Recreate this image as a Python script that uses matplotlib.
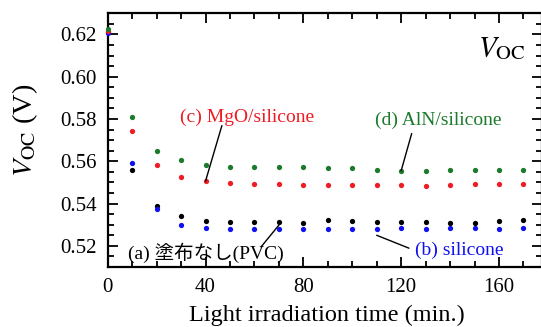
import numpy as np
import matplotlib
matplotlib.use("Agg")
import matplotlib.pyplot as plt
from matplotlib.ticker import MultipleLocator

plt.rcParams['font.family'] = ['Liberation Serif', 'Noto Sans CJK JP']
plt.rcParams['mathtext.fontset'] = 'stix'

# light irradiation time (min.)
time = [0, 10, 20, 30, 40, 50, 60, 70, 80, 90, 100, 110, 120, 130, 140, 150, 160, 170]

# Voc (V)
voc_pvc = [0.621, 0.556, 0.539, 0.5339, 0.5318, 0.5315, 0.5313, 0.5315, 0.5308, 0.5321,
           0.5318, 0.5315, 0.5315, 0.5312, 0.5307, 0.5307, 0.5318, 0.5321]
voc_sil = [0.6208, 0.5594, 0.5372, 0.5299, 0.5285, 0.5281, 0.5279, 0.5279, 0.5279, 0.528,
           0.528, 0.528, 0.5283, 0.5279, 0.5283, 0.5283, 0.528, 0.5283]
voc_mgo = [0.6215, 0.5744, 0.5583, 0.5525, 0.5506, 0.5497, 0.5491, 0.5491, 0.549, 0.5489,
           0.5489, 0.5486, 0.5486, 0.5483, 0.5486, 0.5492, 0.5492, 0.5494]
voc_aln = [0.6225, 0.5808, 0.5651, 0.5604, 0.5584, 0.5572, 0.5572, 0.5574, 0.5572, 0.5568,
           0.5568, 0.556, 0.5555, 0.5555, 0.556, 0.5561, 0.5557, 0.5557]

c_pvc = 'black'
c_sil = '#1010f0'
c_mgo = '#ee1c24'
c_aln = '#1b7a2b'

fig = plt.figure(figsize=(5.41, 3.27), dpi=100)
ax = fig.add_axes([107.7 / 541, 60 / 327, 434.3 / 541, 253.7 / 327])

ms = 3.8
ax.plot(time, voc_pvc, 'o', color=c_pvc, ms=ms, mec='none', clip_on=False, zorder=3)
ax.plot(time, voc_sil, 'o', color=c_sil, ms=ms, mec='none', clip_on=False, zorder=3)
ax.plot(time, voc_mgo, 'o', color=c_mgo, ms=ms, mec='none', clip_on=False, zorder=3)
ax.plot(time, voc_aln, 'o', color=c_aln, ms=ms, mec='none', clip_on=False, zorder=3)

ax.set_xlim(0, 177.6)
ax.set_ylim(0.51, 0.63)
ax.xaxis.set_major_locator(MultipleLocator(40))
ax.xaxis.set_minor_locator(MultipleLocator(10))
ax.yaxis.set_major_locator(MultipleLocator(0.02))
ax.yaxis.set_minor_locator(MultipleLocator(0.005))
ax.yaxis.set_major_formatter(matplotlib.ticker.FormatStrFormatter('%.2f'))
ax.tick_params(which='both', direction='in', top=True, right=True, width=1.3,
               labelsize=15)
ax.tick_params(axis='x', which='major', pad=8)
ax.tick_params(axis='y', which='major', pad=8)
ax.tick_params(which='major', length=7)
ax.tick_params(which='minor', length=4)
for s in ax.spines.values():
    s.set_linewidth(1.6)

ax.set_xlabel('Light irradiation time (min.)', fontsize=17.5)
ax.xaxis.set_label_coords(0.505, -0.15)
ax.set_ylabel(r'$V_{\rm OC}$ (V)', fontsize=20.5)
ax.yaxis.set_label_coords(-0.155, 0.54)

ax.text(171, 0.6132, r'$V_{\rm OC}$', fontsize=21, ha='right', va='center')

line = dict(arrowstyle='-', color='black', lw=1, shrinkA=0, shrinkB=0)
ax.text(29.6, 0.5806, '(c) MgO/silicone', color=c_mgo, fontsize=14, ha='left', va='center')
ax.annotate('', xy=(time[4], voc_mgo[4]), xytext=(46.7, 0.5769), arrowprops=line)
ax.text(109.4, 0.5792, '(d) AlN/silicone', color=c_aln, fontsize=14, ha='left', va='center')
ax.annotate('', xy=(time[12], voc_aln[12]), xytext=(124.3, 0.5731), arrowprops=line)
ax.text(8.3, 0.5166, '(a) 塗布なし(PVC)', color=c_pvc, fontsize=14, ha='left', va='center')
ax.annotate('', xy=(time[7], 0.5298), xytext=(62.7, 0.5195), arrowprops=line)
ax.text(125.7, 0.518, '(b) silicone', color=c_sil, fontsize=14, ha='left', va='center')
ax.annotate('', xy=(time[11], 0.525), xytext=(123.2, 0.5189), arrowprops=line)

fig.savefig('out.png', dpi=100)
